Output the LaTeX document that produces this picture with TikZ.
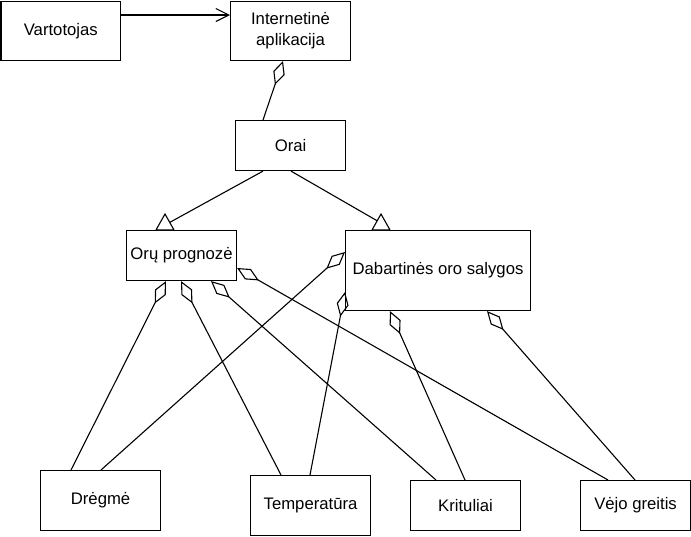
\documentclass[tikz,border=0pt]{standalone}
\usepackage{fontspec}
\setmainfont{Liberation Sans}
\usetikzlibrary{arrows.meta}
\begin{document}
\begin{tikzpicture}[x=1pt,y=-1pt,line width=1.1pt,
  box/.style={draw,anchor=north west,inner sep=0pt,align=center,font=\fontsize{16.7}{21}\selectfont},
  agg/.style={-{Diamond[open,length=25pt,width=12pt]}},
  gen/.style={draw,fill=white,line join=miter}]
\useasboundingbox (0,0) rectangle (691,536);
\node[box,minimum width=119.5pt,minimum height=59.5pt] (v) at (0.5,0.5) {Vartotojas};
\node[box,minimum width=120pt,minimum height=59.5pt] (ia) at (230,0.5) {Internetinė\\aplikacija};
\node[box,minimum width=110pt,minimum height=50pt] (orai) at (235,120) {Orai};
\node[box,minimum width=110pt,minimum height=50pt] (op) at (126,230) {Orų prognozė};
\node[box,minimum width=185pt,minimum height=80pt] (dos) at (345,230) {Dabartinės oro salygos};
\node[box,minimum width=120pt,minimum height=60pt] (dr) at (40,470) {Drėgmė};
\node[box,minimum width=120pt,minimum height=60pt] (tp) at (250,475) {Temperatūra};
\node[box,minimum width=110pt,minimum height=50pt] (kr) at (410,480) {Krituliai};
\node[box,minimum width=110pt,minimum height=50pt] (vg) at (580,480) {Vėjo greitis};
% association
\draw[-{Straight Barb[length=13pt,width=13pt]}] ([yshift=-14.5pt]v.north east) -- ([yshift=-14.5pt]ia.north west);
% aggregation Orai -> Internetine aplikacija
\draw[agg] ([xshift=28pt]orai.north west) -- ([xshift=53pt]ia.south west);
% generalisation
\coordinate (t1) at ([xshift=39pt]op.north west);
\coordinate (t2) at ([xshift=36pt]dos.north west);
\draw ([xshift=28pt]orai.south west) -- ([yshift=5pt]t1);
\draw ([xshift=56pt]orai.south west) -- ([yshift=7pt]t2);
\draw[gen] ([yshift=16pt]t1) -- ([xshift=-9pt]t1) -- ([xshift=9pt]t1) -- cycle;
\draw[gen] ([yshift=16pt]t2) -- ([xshift=-9pt]t2) -- ([xshift=9pt]t2) -- cycle;
% aggregations to Oru prognoze
\draw[agg] ([xshift=31pt]dr.north west) -- ([xshift=40pt]op.south west);
\draw[agg] ([xshift=31pt]tp.north west) -- ([xshift=55pt]op.south west);
\draw[agg] ([xshift=26pt]kr.north west) -- ([xshift=85pt]op.south west);
\draw[agg] ([xshift=28pt]vg.north west) -- ([yshift=-38pt]op.north east);
% aggregations to Dabartines oro salygos
\draw[agg] ([xshift=61pt]dr.north west) -- ([yshift=-22pt]dos.north west);
\draw[agg] ([xshift=60pt]tp.north west) -- ([yshift=-62pt]dos.north west);
\draw[agg] ([xshift=55pt]kr.north west) -- ([xshift=45pt]dos.south west);
\draw[agg] ([xshift=55pt]vg.north west) -- ([xshift=142pt]dos.south west);
\end{tikzpicture}
\end{document}
